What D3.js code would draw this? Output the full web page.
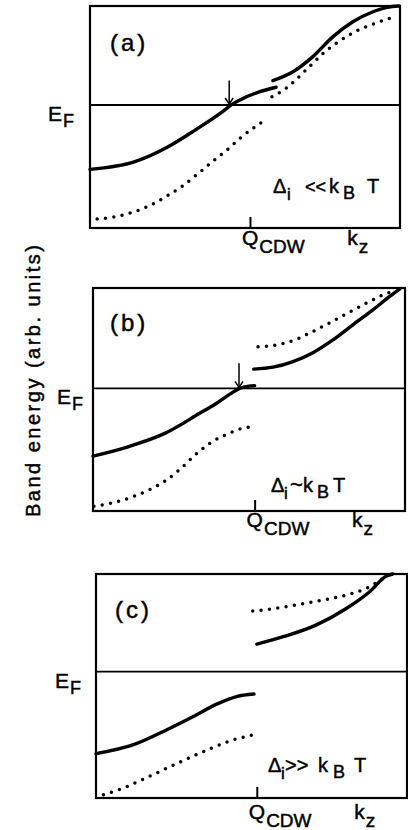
<!DOCTYPE html>
<html><head><meta charset="utf-8">
<script src="https://cdn.jsdelivr.net/npm/d3@7"></script>
<style>
html,body{margin:0;padding:0;background:#fff;}
svg{display:block;font-family:"Liberation Sans",Arial,sans-serif;}
svg text{stroke:#000;stroke-width:0.45px;fill:#000;}
</style></head>
<body>
<svg id="chart" width="408" height="830"></svg>
<script>
// ---------------- DATA (k in arb. units 0..1, energy in arb. units 0..1) ----------------
const panelLabels = ["(a)", "(b)", "(c)"];
const gapRelations = ["<<", "~", ">>"];
const qCDW = [0.516, 0.518, 0.517];          // position of Q_CDW tick on k axis
const fermiLevel = [0.554, 0.550, 0.564];    // E_F on energy axis
const arrowK = [0.449, 0.468, null];         // arrow marking E_F crossing
const arrowTopE = [0.664, 0.662, null];

// Panel (a)
const aSolidLow = [[0.0,0.264],[0.145,0.299],[0.252,0.366],[0.339,0.441],[0.435,0.532],[0.452,0.551],[0.484,0.577],[0.548,0.614],[0.600,0.634]];
const aSolidHigh = [[0.590,0.664],[0.655,0.704],[0.719,0.772],[0.784,0.862],[0.848,0.929],[0.913,0.974],[0.958,0.994],[0.997,1.0]];
const aDotLow = [[0.023,0.041],[0.084,0.051],[0.142,0.073],[0.197,0.104],[0.248,0.144],[0.300,0.191],[0.352,0.249],[0.400,0.305],[0.448,0.359],[0.494,0.416],[0.545,0.467],[0.571,0.491]];
const aDotHigh = [[0.587,0.591],[0.632,0.629],[0.671,0.677],[0.713,0.734],[0.752,0.787],[0.797,0.835],[0.845,0.877],[0.900,0.911],[0.958,0.941],[0.984,0.952]];

// Panel (b)
const bSolidLow = [[0.0,0.246],[0.112,0.288],[0.230,0.348],[0.342,0.438],[0.395,0.482],[0.440,0.525],[0.470,0.550],[0.500,0.560],[0.518,0.562]];
const bSolidHigh = [[0.515,0.636],[0.577,0.645],[0.641,0.670],[0.705,0.710],[0.769,0.767],[0.833,0.835],[0.897,0.902],[0.951,0.962],[0.983,0.995]];
const bDotLow = [[0.003,0.021],[0.061,0.036],[0.126,0.063],[0.185,0.098],[0.235,0.138],[0.278,0.186],[0.324,0.247],[0.374,0.303],[0.431,0.345],[0.486,0.373],[0.516,0.378]];
const bDotHigh = [[0.529,0.737],[0.590,0.745],[0.646,0.767],[0.703,0.804],[0.756,0.842],[0.810,0.883],[0.865,0.924],[0.919,0.962],[0.972,0.992]];

// Panel (c)
const cSolidLow = [[0.0,0.198],[0.121,0.238],[0.228,0.305],[0.313,0.364],[0.388,0.419],[0.452,0.453],[0.508,0.464]];
const cSolidHigh = [[0.517,0.687],[0.602,0.720],[0.709,0.773],[0.806,0.847],[0.880,0.921],[0.934,0.991],[0.954,1.0]];
const cDotLow = [[0.024,0.015],[0.089,0.045],[0.153,0.085],[0.217,0.126],[0.292,0.174],[0.367,0.220],[0.442,0.260],[0.506,0.282]];
const cDotHigh = [[0.504,0.835],[0.581,0.847],[0.656,0.865],[0.730,0.884],[0.806,0.906],[0.870,0.936],[0.923,0.981]];

const solidCurves = [[aSolidLow, aSolidHigh], [bSolidLow, bSolidHigh], [cSolidLow, cSolidHigh]];
const dottedCurves = [[aDotLow, aDotHigh], [bDotLow, bDotHigh], [cDotLow, cDotHigh]];

// ---------------- LAYOUT ----------------
const frames = [
  {l:90, r:400, t:6,   b:228, eX:48, qY:245, relY:193, relX:273, relFs:18, rel:[0,14,32,56,70,94], labX:110, labY:51},
  {l:93, r:405, t:288, b:511, eX:57, qY:527, relY:492, relX:271, relFs:22, rel:[0,13,19,32,46,62], labX:110, labY:331},
  {l:96, r:407, t:574, b:798, eX:55, qY:819, relY:772, relX:268, relFs:20, rel:[0,13,17,50,65,86], labX:115, labY:618}
];

const svg = d3.select("#chart");
const line = (x, y) => d3.line().x(d => x(d[0])).y(d => y(d[1])).curve(d3.curveMonotoneX);

frames.forEach((f, i) => {
  const x = d3.scaleLinear().domain([0, 1]).range([f.l, f.r]);
  const y = d3.scaleLinear().domain([0, 1]).range([f.b, f.t]);
  const g = svg.append("g");

  // frame
  g.append("rect").attr("x", f.l).attr("y", f.t).attr("width", f.r - f.l).attr("height", f.b - f.t)
    .attr("fill", "none").attr("stroke", "#000").attr("stroke-width", 2.2);

  // Q_CDW tick via axis
  const ax = d3.axisBottom(x).tickValues([qCDW[i]]).tickSizeInner(-11).tickSizeOuter(0).tickFormat("");
  const axg = g.append("g").attr("transform", `translate(0,${f.b})`).call(ax);
  axg.select(".domain").remove();
  axg.selectAll(".tick line").attr("stroke", "#000").attr("stroke-width", 2);

  // Fermi level
  g.append("line").attr("x1", f.l).attr("x2", f.r).attr("y1", y(fermiLevel[i])).attr("y2", y(fermiLevel[i]))
    .attr("stroke", "#000").attr("stroke-width", 1.9);

  // solid bands
  solidCurves[i].forEach(c => {
    g.append("path").attr("d", line(x, y)(c)).attr("fill", "none").attr("stroke", "#000")
      .attr("stroke-width", 3.4).attr("stroke-linecap", "round");
  });
  // dotted bands
  dottedCurves[i].forEach(c => {
    g.append("path").attr("d", line(x, y)(c)).attr("fill", "none").attr("stroke", "#000")
      .attr("stroke-width", 3.5).attr("stroke-linecap", "round").attr("stroke-dasharray", "0 8.4");
  });

  // arrow
  if (arrowK[i] !== null) {
    const ax0 = x(arrowK[i]), yTip = y(fermiLevel[i]), yTop = y(arrowTopE[i]);
    g.append("line").attr("x1", ax0).attr("x2", ax0).attr("y1", yTop).attr("y2", yTip - 1)
      .attr("stroke", "#000").attr("stroke-width", 1.5);
    g.append("path").attr("d", `M${ax0 - 4},${yTip - 7}L${ax0},${yTip - 1}L${ax0 + 4},${yTip - 7}`)
      .attr("fill", "none").attr("stroke", "#000").attr("stroke-width", 1.5);
  }

  // panel label
  g.append("text").attr("x", f.labX).attr("y", f.labY).attr("font-size", 24)
    .attr("letter-spacing", 3).text(panelLabels[i]);

  // E_F label
  const ef = g.append("text").attr("x", f.eX).attr("y", y(fermiLevel[i]) + 16).attr("font-size", 21);
  ef.append("tspan").text("E");
  ef.append("tspan").attr("dy", 6).attr("dx", 1).attr("font-size", 18).text("F");

  // Q_CDW label
  const q = g.append("text").attr("x", x(qCDW[i]) - 8).attr("y", f.qY).attr("font-size", 21);
  q.append("tspan").text("Q");
  q.append("tspan").attr("dy", 8).attr("dx", 1).attr("font-size", 19).text("CDW");

  // k_z label
  const kz = g.append("text").attr("x", x(0.83)).attr("y", f.qY).attr("font-size", 21);
  kz.append("tspan").text("k");
  kz.append("tspan").attr("dy", 8).attr("dx", 1).attr("font-size", 19).text("z");

  // gap relation label
  const rel = g.append("text").attr("y", f.relY).attr("font-size", 20);
  const o = f.rel;
  rel.append("tspan").attr("x", f.relX + o[0]).text("Δ");
  rel.append("tspan").attr("x", f.relX + o[1]).attr("dy", 7).attr("font-size", 17).text("i");
  rel.append("tspan").attr("x", f.relX + o[2]).attr("dy", -7).attr("font-size", f.relFs).text(gapRelations[i]);
  rel.append("tspan").attr("x", f.relX + o[3]).text("k");
  rel.append("tspan").attr("x", f.relX + o[4]).attr("dy", 6).attr("font-size", 18).text("B");
  rel.append("tspan").attr("x", f.relX + o[5]).attr("dy", -6).text("T");
});

// y-axis title
svg.append("text").attr("transform", "translate(40,381) rotate(-90)").attr("text-anchor", "middle")
  .attr("font-size", 20).attr("textLength", 272).attr("lengthAdjust", "spacing")
  .text("Band energy (arb. units)");
</script>
</body></html>
